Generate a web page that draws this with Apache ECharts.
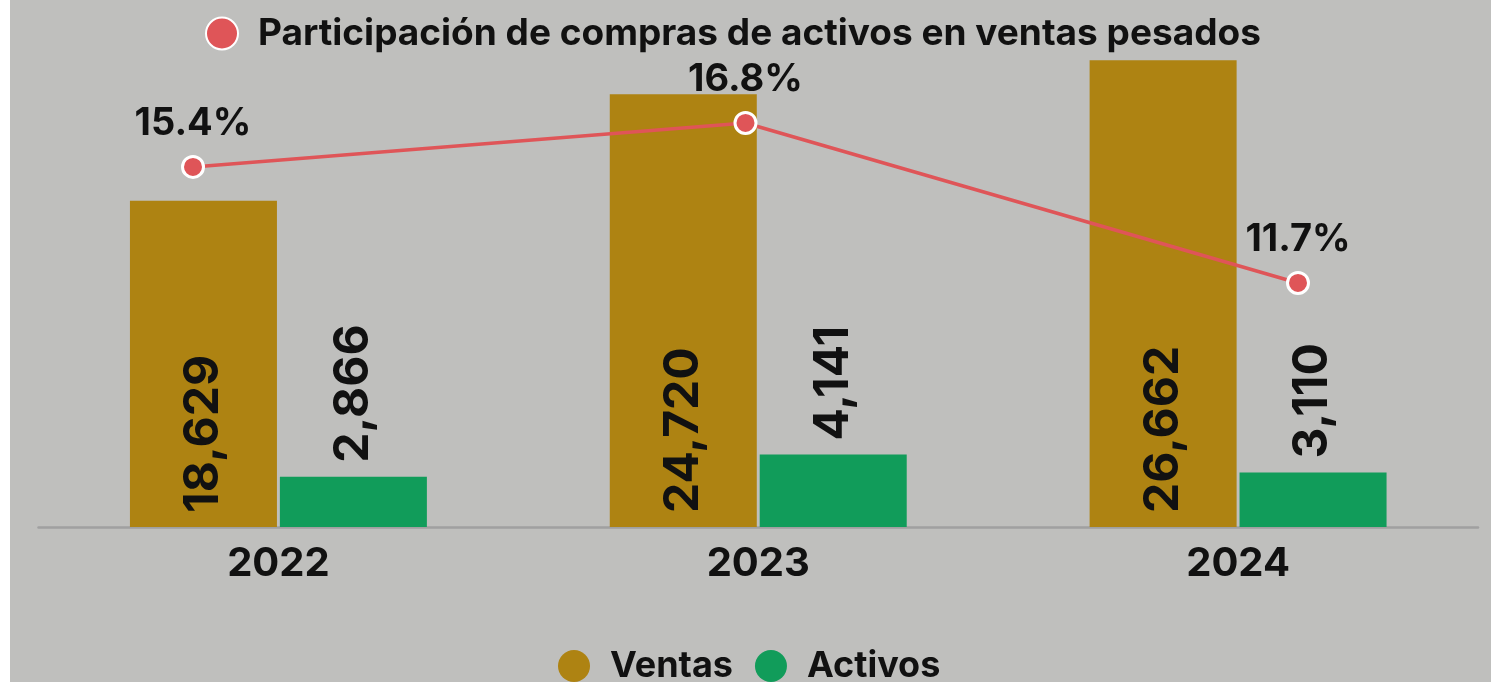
<!DOCTYPE html>
<html>
<head>
<meta charset="utf-8">
<script src="https://cdn.jsdelivr.net/npm/echarts@6/dist/echarts.min.js"></script>
<style>
  html, body { margin: 0; padding: 0; background: #ffffff; }
  #main {
    position: absolute;
    left: 10px;
    top: 0;
    width: 1481px;
    height: 682px;
    background: #bfbfbd;
  }
</style>
</head>
<body>
<div id="main"></div>
<script>
// datos
const years = ["2022", "2023", "2024"];
const ventas = [18629, 24720, 26662];
const activos = [2866, 4141, 3110];
const participacion = [15.4, 16.8, 11.7];

const lineName = "Participación de compras de activos en ventas pesados";
const FONT = "Inter, 'Noto Sans', sans-serif";

const numFmt = (p) => p.value.toLocaleString("en-US");

const chart = echarts.init(document.getElementById("main"), null, { renderer: "canvas" });

const option = {
  backgroundColor: "#bfbfbd",
  textStyle: { fontFamily: FONT },
  legend: [
    {
      data: [lineName],
      left: 190,
      top: 10,
      icon: "circle",
      itemWidth: 32,
      itemHeight: 32,
      textStyle: {
        fontFamily: FONT,
        fontSize: 37,
        fontWeight: "bold",
        color: "#111",
        padding: [0, 0, 0, 15],
      },
    },
    {
      data: ["Ventas", "Activos"],
      left: 543,
      top: 643,
      icon: "circle",
      itemWidth: 32,
      itemHeight: 32,
      itemGap: 22,
      textStyle: {
        fontFamily: FONT,
        fontSize: 36,
        fontWeight: "bold",
        color: "#111",
        padding: [0, 0, 0, 15],
      },
    },
  ],
  grid: [
    { left: 28.5, right: 13, top: 36.7, bottom: 155 },
    { left: 183, right: 193, top: 36.7, bottom: 155 },
  ],
  xAxis: [
    {
      type: "category",
      gridIndex: 0,
      data: years,
      axisLine: { show: true, lineStyle: { color: "#a0a0a0", width: 2.5 } },
      axisTick: { show: false },
      axisLabel: {
        margin: 17,
        fontFamily: FONT,
        fontSize: 40,
        fontWeight: "bold",
        color: "#111",
      },
    },
    {
      type: "category",
      gridIndex: 1,
      data: years,
      boundaryGap: false,
      show: false,
    },
  ],
  yAxis: [
    { type: "value", gridIndex: 0, min: 0, max: 28000, show: false, splitLine: { show: false } },
    { type: "value", gridIndex: 1, min: 3.92, max: 19.55, show: false, splitLine: { show: false } },
  ],
  series: [
    {
      name: "Ventas",
      type: "bar",
      xAxisIndex: 0,
      yAxisIndex: 0,
      data: ventas,
      barWidth: 147,
      barGap: "2%",
      itemStyle: { color: "#ae8312" },
      label: {
        show: true,
        position: "insideBottom",
        distance: 14,
        rotate: 90,
        align: "left",
        verticalAlign: "middle",
        formatter: numFmt,
        fontFamily: FONT,
        fontSize: 48,
        fontWeight: "bold",
        color: "#111",
      },
      z: 2,
    },
    {
      name: "Activos",
      type: "bar",
      xAxisIndex: 0,
      yAxisIndex: 0,
      data: activos,
      barWidth: 147,
      itemStyle: { color: "#119c5a" },
      label: {
        show: true,
        position: "top",
        distance: 14,
        rotate: 90,
        align: "left",
        verticalAlign: "middle",
        formatter: numFmt,
        fontFamily: FONT,
        fontSize: 48,
        fontWeight: "bold",
        color: "#111",
      },
      z: 2,
    },
    {
      name: lineName,
      type: "line",
      xAxisIndex: 1,
      yAxisIndex: 1,
      data: participacion,
      symbol: "circle",
      symbolSize: 21,
      itemStyle: { color: "#df5558", borderColor: "#ffffff", borderWidth: 3 },
      lineStyle: { color: "#df5558", width: 3.5 },
      label: {
        show: true,
        position: "top",
        distance: 12,
        formatter: "{c}%",
        fontFamily: FONT,
        fontSize: 38,
        fontWeight: "bold",
        color: "#111",
      },
      z: 5,
    },
  ],
};

chart.setOption(option);
window.addEventListener("resize", () => {
  chart.resize();
});
</script>
</body>
</html>
